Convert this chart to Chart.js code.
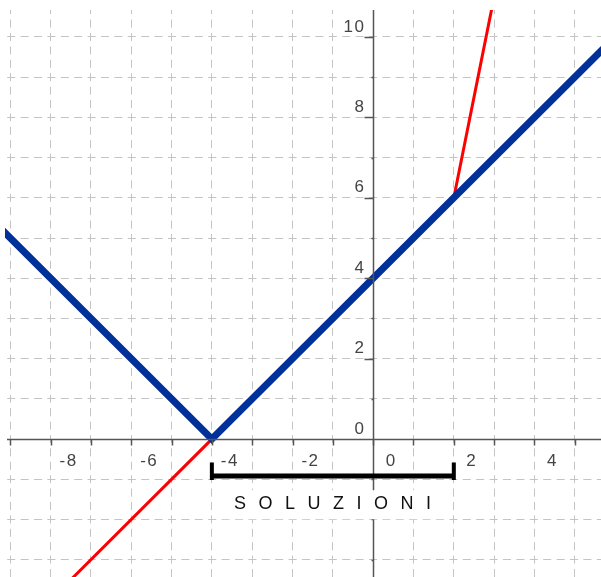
<!DOCTYPE html>
<html>
<head>
<meta charset="utf-8">
<script src="https://cdn.jsdelivr.net/npm/chart.js@4/dist/chart.umd.min.js"></script>
<style>
    body { margin: 0; background: #fff; }
    #wrap { width: 601px; height: 577px; }
</style>
</head>
<body>
<div id="wrap"><canvas id="graph"></canvas></div>
<script>
// |x+4| (blue) and the red function
const blueX = [-9.5, -4, 6];
const blueY = [5.5, 0, 10];
const redX = [-8, -4, 2, 3];
const redY = [-4, 0, 6, 11];

// grid lines and tick labels
const xGrid = [-9, -8, -7, -6, -5, -4, -3, -2, -1, 0, 1, 2, 3, 4, 5];
const yGrid = [-3, -2, -1, 0, 1, 2, 3, 4, 5, 6, 7, 8, 9, 10];
const xLabels = [-8, -6, -4, -2, 0, 2, 4];
const yLabels = [0, 2, 4, 6, 8, 10];

// solution interval
const solFrom = -4;
const solTo = 2;
const solText = 'SOLUZIONI';

const toPts = (xs, ys) => xs.map((x, i) => ({ x: x, y: ys[i] }));

const axesPlugin = {
    id: 'axesThroughOrigin',
    afterDraw(chart) {
        const ctx = chart.ctx;
        const xs = chart.scales.x, ys = chart.scales.y;
        const area = chart.chartArea;
        const x0 = Math.round(xs.getPixelForValue(0)) + 0.5;
        const y0 = Math.round(ys.getPixelForValue(0)) + 0.5;
        ctx.save();
        ctx.strokeStyle = '#555';
        ctx.lineWidth = 1.5;
        ctx.beginPath();
        ctx.moveTo(area.left + 2, y0);
        ctx.lineTo(area.right, y0);
        ctx.moveTo(x0, area.top);
        ctx.lineTo(x0, area.bottom);
        ctx.stroke();

        // ticks on x axis
        ctx.beginPath();
        xGrid.forEach(v => {
            const px = Math.round(xs.getPixelForValue(v)) + 0.5;
            ctx.moveTo(px, y0);
            ctx.lineTo(px, y0 + 6);
        });
        // ticks on y axis
        yGrid.forEach(v => {
            if (v === 0) return;
            const py = Math.round(ys.getPixelForValue(v)) + 0.5;
            const len = yLabels.includes(v) ? 9 : 2;
            ctx.moveTo(x0 - len, py);
            ctx.lineTo(x0, py);
        });
        ctx.stroke();

        ctx.fillStyle = '#444';
        ctx.font = '17px "Liberation Sans", Arial, sans-serif';
        ctx.letterSpacing = '1.5px';
        ctx.textBaseline = 'middle';
        ctx.textAlign = 'center';
        xLabels.forEach(v => {
            ctx.fillText(String(v), xs.getPixelForValue(v) + 18, y0 + 22);
        });
        ctx.textAlign = 'right';
        yLabels.forEach(v => {
            ctx.fillText(String(v), x0 - 8, ys.getPixelForValue(v) - 10);
        });

        // bracket for the solution interval
        const bx1 = xs.getPixelForValue(solFrom);
        const bx2 = xs.getPixelForValue(solTo);
        const by = ys.getPixelForValue(-0.92);
        ctx.strokeStyle = '#000';
        ctx.lineWidth = 5;
        ctx.lineCap = 'butt';
        ctx.beginPath();
        ctx.moveTo(bx1, by);
        ctx.lineTo(bx2, by);
        ctx.stroke();
        ctx.lineWidth = 4;
        ctx.beginPath();
        ctx.moveTo(bx1, ys.getPixelForValue(-0.58));
        ctx.lineTo(bx1, ys.getPixelForValue(-1.02));
        ctx.moveTo(bx2, ys.getPixelForValue(-0.58));
        ctx.lineTo(bx2, ys.getPixelForValue(-1.02));
        ctx.stroke();

        const tx = (bx1 + bx2) / 2;
        const ty = ys.getPixelForValue(-1.62);
        ctx.fillStyle = '#fff';
        ctx.fillRect(bx1 + 10, ty - 14, bx2 - bx1 - 16, 29);
        ctx.fillStyle = '#111';
        ctx.font = '18px "Liberation Sans", Arial, sans-serif';
        ctx.letterSpacing = '12.5px';
        ctx.textAlign = 'center';
        ctx.fillText(solText, tx + 6, ty);
        ctx.restore();
    }
};

const gridOpts = (offset) => ({
    grid: { color: '#c4c4c4', lineWidth: 1, drawTicks: false },
    border: { display: false, dash: [8, 5.4], dashOffset: offset },
    ticks: { display: false }
});

new Chart(document.getElementById('graph'), {
    type: 'scatter',
    data: {
        datasets: [
            {
                label: 'blu',
                data: toPts(blueX, blueY),
                showLine: true,
                borderColor: '#00309a',
                borderWidth: 7,
                borderJoinStyle: 'miter',
                pointRadius: 0,
                order: 0
            },
            {
                label: 'rosso',
                data: toPts(redX, redY),
                showLine: true,
                borderColor: '#ff0000',
                borderWidth: 3,
                pointRadius: 0,
                order: 1
            }
        ]
    },
    options: {
        responsive: true,
        maintainAspectRatio: false,
        animation: false,
        layout: { padding: { top: 10, left: 5, right: 0, bottom: 0 } },
        plugins: {
            legend: { display: false },
            title: { display: false },
            tooltip: { enabled: false }
        },
        scales: {
            x: Object.assign({
                type: 'linear',
                min: -9.13,
                max: 5.65,
                afterBuildTicks: axis => { axis.ticks = xGrid.map(v => ({ value: v })); }
            }, gridOpts(3.8)),
            y: Object.assign({
                type: 'linear',
                min: -3.43,
                max: 10.67,
                afterBuildTicks: axis => { axis.ticks = yGrid.map(v => ({ value: v })); }
            }, gridOpts(11.2))
        }
    },
    plugins: [axesPlugin]
});
</script>
</body>
</html>
